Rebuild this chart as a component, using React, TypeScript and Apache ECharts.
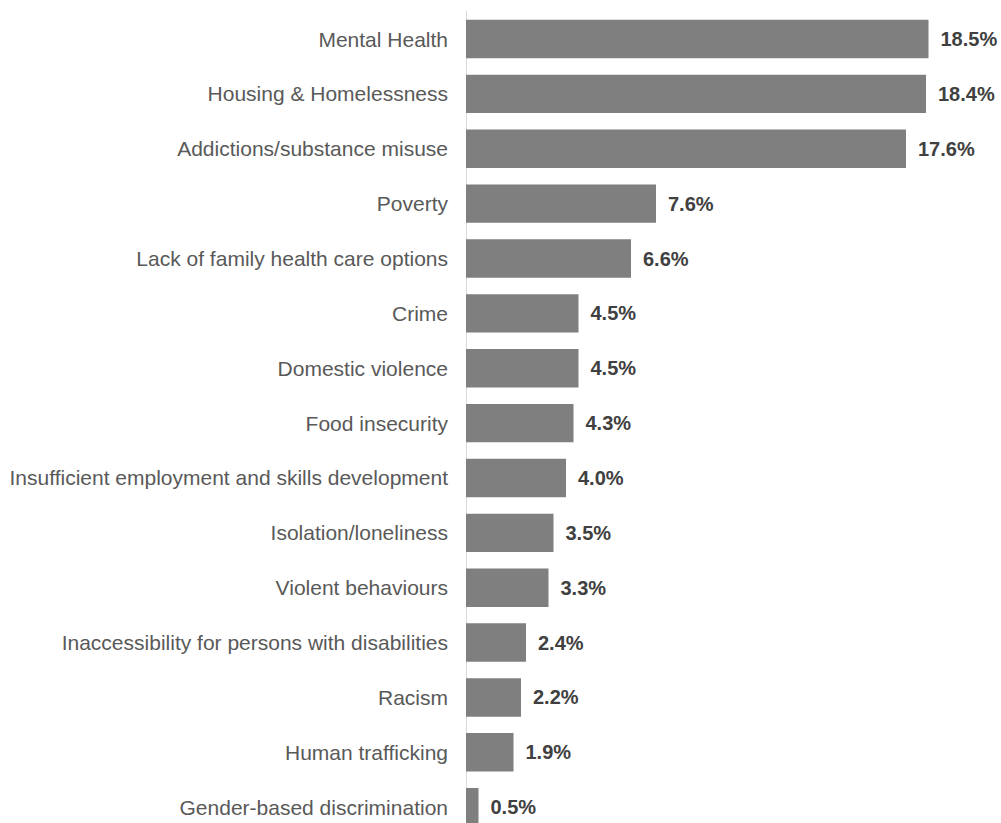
import React, { useEffect, useRef } from "react";
import * as echarts from "echarts";

const categories = [
  "Mental Health",
  "Housing & Homelessness",
  "Addictions/substance misuse",
  "Poverty",
  "Lack of family health care options",
  "Crime",
  "Domestic violence",
  "Food insecurity",
  "Insufficient employment and skills development",
  "Isolation/loneliness",
  "Violent behaviours",
  "Inaccessibility for persons with disabilities",
  "Racism",
  "Human trafficking",
  "Gender-based discrimination",
];
const values = [18.5, 18.4, 17.6, 7.6, 6.6, 4.5, 4.5, 4.3, 4.0, 3.5, 3.3, 2.4, 2.2, 1.9, 0.5];

export default function App() {
  const ref = useRef<HTMLDivElement>(null);
  useEffect(() => {
    const chart = echarts.init(ref.current!, null, { renderer: "svg" });
    chart.setOption({
      animation: false,
      grid: { left: 466, top: 11.6, width: 500, height: 823 },
      xAxis: {
        type: "value",
        min: 0,
        max: 20,
        show: false,
      },
      yAxis: {
        type: "category",
        data: categories,
        inverse: true,
        axisLine: { show: true, lineStyle: { color: "#d9d9d9", width: 1 } },
        axisTick: { show: false },
        axisLabel: {
          color: "#595959",
          fontSize: 21,
          fontFamily: "Liberation Sans, Arial, sans-serif",
          margin: 18,
        },
      },
      series: [
        {
          type: "bar",
          data: values,
          barWidth: "70%",
          itemStyle: { color: "#7f7f7f" },
          label: {
            show: true,
            position: "right",
            distance: 12,
            color: "#404040",
            fontWeight: "bold",
            fontSize: 20,
            fontFamily: "Liberation Sans, Arial, sans-serif",
            formatter: (p: any) => p.value.toFixed(1) + "%",
          },
        },
      ],
    });
    return () => chart.dispose();
  }, []);
  return (
    <div
      ref={ref}
      style={{ position: "fixed", left: 0, top: 0, width: 1001, height: 850, background: "#fff" }}
    />
  );
}
